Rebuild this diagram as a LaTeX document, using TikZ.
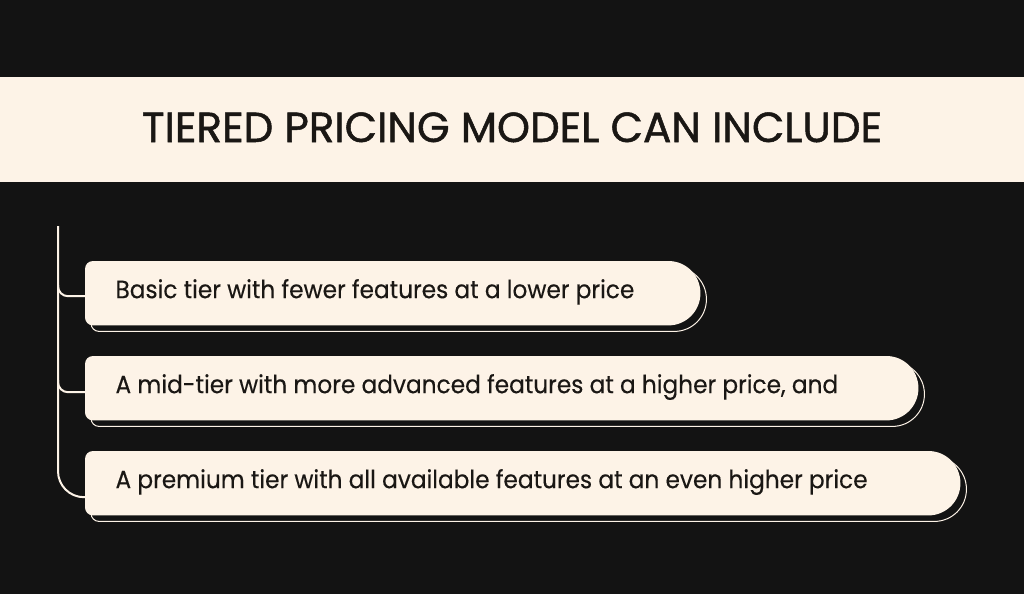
\documentclass[tikz,border=0pt]{standalone}
\usepackage{fontspec}
\setmainfont{Poppins}
\newfontfamily\tierfont{Poppins}[FakeStretch=0.93, FakeBold=0.3]
\newfontfamily\titlefont{Poppins}[FakeBold=1.2]
\usetikzlibrary{calc}
\definecolor{bgdark}{HTML}{131313}
\definecolor{cream}{HTML}{FDF3E7}
\definecolor{ink}{HTML}{1A1714}
\tikzset{
  tierbox/.style={inner sep=0pt, minimum height=64pt, anchor=north west},
  tiertext/.style={anchor=base west, text=ink, font=\tierfont\fontsize{25}{30}\selectfont},
  trunk/.style={draw=cream, line width=2pt},
  tiershadow/.style={fill=bgdark, draw=cream, line width=1pt},
}
% box shape with shadow, round on the right
\newcommand\drawtier[1]{%
  \draw[tiershadow, rounded corners=32pt] ($(#1.north west)+(46,6)$) -- ($(#1.north east)+(6,6)$) -- ($(#1.south east)+(6,6)$) -- ($(#1.south west)+(46,6)$) [rounded corners=8pt] -- ($(#1.south west)+(6,6)$) -- ($(#1.north west)+(6,6)$) -- cycle;%
  \fill[cream, rounded corners=32pt] ($(#1.north west)+(40,0)$) -- (#1.north east) -- (#1.south east) -- ($(#1.south west)+(40,0)$) [rounded corners=8pt] -- (#1.south west) -- (#1.north west) -- cycle;%
}
\begin{document}
\begin{tikzpicture}[x=1pt, y=-1pt]
  % background and title band
  \fill[bgdark] (0,0) rectangle (1024,594);
  \useasboundingbox (0,0) rectangle (1024,594);
  \fill[cream] (0,77) rectangle (1024,182);
  \node[anchor=base, text=ink, font=\titlefont\fontsize{42}{50}\selectfont] (title) at (512,142) {TIERED PRICING MODEL CAN INCLUDE};

  % boxes
  \node[tierbox, minimum width=615pt] (b1) at (85,261) {};
  \node[tierbox, minimum width=833pt] (b2) at (85,356) {};
  \node[tierbox, minimum width=875pt] (b3) at (85,451) {};
  \drawtier{b1}
  \drawtier{b2}
  \drawtier{b3}

  % texts
  \node[tiertext] (t1) at ($(b1.west)+(27,5)$) {Basic tier with fewer features at a lower price};
  \node[tiertext] (t2) at ($(b2.west)+(27,5)$) {A mid-tier with more advanced features at a higher price, and};
  \node[tiertext] (t3) at ($(b3.west)+(27,5)$) {A premium tier with all available features at an even higher price};

  % trunk and branches
  \coordinate (top) at (58,226);
  \draw[trunk, rounded corners=26pt] (top) |- ($(b3.west)+(0,14)$);
  \draw[trunk, rounded corners=10pt] ($(top|-b1.west)+(0,-8)$) |- ($(b1.west)+(0,3)$);
  \draw[trunk, rounded corners=10pt] ($(top|-b2.west)+(0,-8)$) |- ($(b2.west)+(0,4)$);
\end{tikzpicture}
\end{document}
